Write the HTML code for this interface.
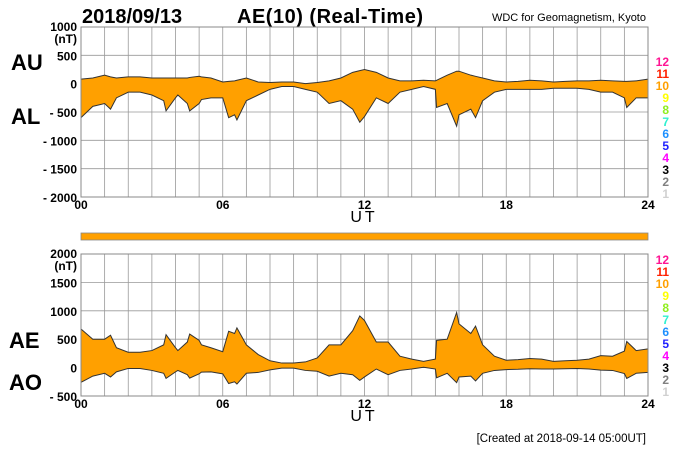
<!DOCTYPE html>
<html><head><meta charset="utf-8"><style>
body{margin:0;background:#fff;}
svg{font-family:"Liberation Sans",sans-serif;}
</style></head><body>
<svg id="c" width="700" height="450" xmlns="http://www.w3.org/2000/svg">
<text x="82" y="23" font-size="20" font-weight="bold">2018/09/13</text>
<text x="237" y="23" font-size="20" font-weight="bold" textLength="186">AE(10) (Real-Time)</text>
<text x="646" y="21" font-size="11" text-anchor="end">WDC for Geomagnetism, Kyoto</text>
<text x="11" y="70" font-size="22" font-weight="bold">AU</text>
<text x="11" y="124" font-size="22" font-weight="bold">AL</text>
<text x="9" y="348" font-size="22" font-weight="bold">AE</text>
<text x="9" y="390" font-size="22" font-weight="bold">AO</text>
<text x="646" y="442" font-size="11.5" text-anchor="end">[Created at 2018-09-14 05:00UT]</text>
<rect x="81" y="233" width="567" height="7" fill="#ffa000" stroke="#888" stroke-width="0.8"/>
<g id="g"></g>
</svg>
<script>
const hours=[0,0.5,1,1.25,1.5,2,2.5,3,3.5,3.6,4,4.1,4.5,4.6,5,5.1,5.5,6,6.25,6.5,6.6,7,7.5,8,8.5,9,9.5,10,10.5,11,11.5,11.8,12,12.5,13,13.5,14,14.5,15,15.05,15.5,15.9,16,16.5,16.7,17,17.5,18,18.5,19,19.5,20,20.5,21,21.5,22,22.5,23,23.1,23.5,24];
const auValues=[80,100,150,120,100,120,120,100,100,100,100,100,100,110,130,120,100,30,40,50,60,100,30,20,30,30,0,20,50,100,200,230,250,200,100,50,50,60,50,60,150,220,220,150,130,100,50,30,40,60,50,30,40,50,50,60,50,40,40,50,80];
const alValues=[-600,-400,-350,-450,-250,-150,-150,-200,-300,-480,-250,-200,-350,-480,-350,-280,-250,-250,-600,-550,-640,-300,-200,-100,-50,-50,-100,-150,-350,-300,-450,-680,-580,-250,-350,-150,-100,-50,-100,-420,-350,-750,-550,-450,-600,-300,-150,-100,-100,-100,-100,-80,-80,-80,-100,-150,-150,-250,-420,-250,-250];
const xTicks=["00","06","12","18","24"];
const topYTicks=[1000,500,0,-500,-1000,-1500,-2000];
const botYTicks=[2000,1500,1000,500,0,-500];
const legendLabels=["12","11","10","9","8","7","6","5","4","3","2","1"];
const legendColors=["#ff1493","#ff2000","#ffa000","#ffff00","#90ee20","#30f0d0","#1e90ff","#2020ff","#ff00ff","#000000","#808080","#d0d0d0"];
const aeValues=auValues.map((u,i)=>u-alValues[i]);
const aoValues=auValues.map((u,i)=>(u+alValues[i])/2);
const NS="http://www.w3.org/2000/svg",g=document.getElementById('g');
function mk(t,a,p){const e=document.createElementNS(NS,t);for(const k in a)e.setAttribute(k,a[k]);(p||g).appendChild(e);return e;}
const X0=81,X1=648;
const xs=h=>X0+(X1-X0)*h/24;
function panel(name,yT,yB,vMax,vMin,ticks,upper,lower,legTop){
  const ys=v=>yT+(vMax-v)/(vMax-vMin)*(yB-yT);
  for(let h=0;h<=24;h++){const l=mk('line',{x1:xs(h),x2:xs(h),y1:yT,y2:yB,stroke:'#999','stroke-width':0.8});
    }
  ticks.forEach((v,i)=>{const l=mk('line',{x1:X0,x2:X1,y1:ys(v),y2:ys(v),stroke:'#999','stroke-width':0.8});
    
    const t=mk('text',{x:77,y:ys(v)+(i==0?4:5),'font-size':12,'font-weight':'bold','text-anchor':'end'});
    t.textContent=v<0?'- '+(-v):String(v);
    });
  const nt=mk('text',{x:77,y:ys(ticks[0])+16,'font-size':12,'font-weight':'bold','text-anchor':'end'});nt.textContent='(nT)';
  
  let d='M'+hours.map((h,i)=>xs(h)+','+ys(upper[i])).join('L');
  d+='L'+hours.map((h,i)=>xs(h)+','+ys(lower[i])).reverse().join('L')+'Z';
  const a=mk('path',{d:d,fill:'#ffa000',stroke:'none'});
  
  const u=mk('path',{d:'M'+hours.map((h,i)=>xs(h)+','+ys(upper[i])).join('L'),fill:'none',stroke:'#333','stroke-width':1});
  
  const lo=mk('path',{d:'M'+hours.map((h,i)=>xs(h)+','+ys(lower[i])).join('L'),fill:'none',stroke:'#333','stroke-width':1});
  
  const f=mk('rect',{x:X0,y:yT,width:X1-X0,height:yB-yT,fill:'none',stroke:'#888','stroke-width':1});
  
  xTicks.forEach((s,i)=>{const t=mk('text',{x:xs(i*6),y:yB+12,'font-size':12,'font-weight':'bold','text-anchor':'middle'});t.textContent=s;
    });
  const ut=mk('text',{x:364,y:yB+25,'font-size':16,'text-anchor':'middle','letter-spacing':3});ut.textContent='UT';
  
  legendLabels.forEach((s,i)=>{const t=mk('text',{x:669,y:legTop+i*12,'font-size':12,'font-weight':'bold','text-anchor':'end',fill:legendColors[i]});t.textContent=s;
    });
}
panel('top',27,197,1000,-2000,topYTicks,auValues,alValues,66);
panel('bottom',254,396,2000,-500,botYTicks,aeValues,aoValues,264);
</script>
</body></html>
